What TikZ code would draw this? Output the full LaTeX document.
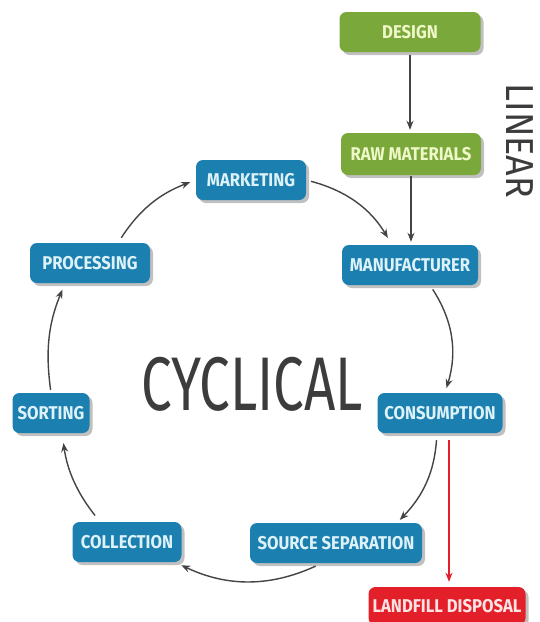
\documentclass[tikz,border=0pt]{standalone}
\usepackage{fontspec}
\usetikzlibrary{shadows,arrows.meta}
\newfontfamily\lblfont[FakeStretch=0.9]{Fira Sans}
\newfontfamily\bigfont[FakeStretch=0.72]{Fira Sans}
\newfontfamily\linfont[FakeStretch=0.92]{Fira Sans}
\definecolor{boxblue}{HTML}{1B7FB0}
\definecolor{boxgreen}{HTML}{7BA83A}
\definecolor{boxred}{HTML}{E3202A}
\definecolor{txtblue}{HTML}{DDF2F8}
\definecolor{txtgreen}{HTML}{EEF8C8}
\definecolor{txtred}{HTML}{FCE4E4}
\definecolor{arrowgray}{HTML}{444444}
\definecolor{titlegray}{HTML}{3C3C3C}
\tikzset{
  box/.style={rounded corners=7pt, minimum height=40pt, inner sep=0pt,
    font=\lblfont\bfseries\fontsize{18.5}{18.5}\selectfont,
    drop shadow={shadow xshift=3pt, shadow yshift=-3pt, opacity=0.35, fill=black!70}},
  bluebox/.style={box, fill=boxblue, text=txtblue},
  greenbox/.style={box, fill=boxgreen, text=txtgreen},
  redbox/.style={box, fill=boxred, text=txtred},
  flow/.style={draw=arrowgray, line width=1.4pt, -{Stealth[length=9pt,width=7pt]}},
  redflow/.style={draw=boxred, line width=1.4pt, -{Stealth[length=9pt,width=7pt]}}
}
\begin{document}
\begin{tikzpicture}[x=1pt,y=-1pt]
\useasboundingbox (0,0) rectangle (539,622);
\fill[white] (0,0) rectangle (539,622);
\node[greenbox, minimum width=141pt] (design) at (410,32) {DESIGN};
\node[greenbox, minimum width=140pt, minimum height=42pt] (raw) at (411,154) {RAW MATERIALS};
\node[bluebox, minimum width=110pt] (mkt) at (251,180) {MARKETING};
\node[bluebox, minimum width=136pt] (manu) at (410,265) {MANUFACTURER};
\node[bluebox, minimum width=120pt] (proc) at (90,263) {PROCESSING};
\node[bluebox, minimum width=125pt] (cons) at (440,413) {CONSUMPTION};
\node[bluebox, minimum width=77pt] (sort) at (51,413) {SORTING};
\node[bluebox, minimum width=109pt] (coll) at (127,542) {COLLECTION};
\node[bluebox, minimum width=172pt] (src) at (336,543) {SOURCE SEPARATION};
\node[redbox, minimum width=157pt, minimum height=38pt] (land) at (447,606) {LANDFILL DISPOSAL};
\node[text=titlegray, font=\bigfont\fontsize{76}{76}\selectfont] (cyc) at (252,384) {CYCLICAL};
\node[text=titlegray, rotate=-90, font=\linfont\fontsize{39}{39}\selectfont] (lin) at (520,141) {LINEAR};

\draw[flow, shorten <=3pt, shorten >=3pt] (design) -- (design |- raw.north);
\draw[flow, shorten <=1pt, shorten >=3pt] (raw) -- (raw |- manu.north);
\draw[flow, shorten <=5pt, shorten >=8pt] (mkt.east) to[bend left=22] ([xshift=-18pt]manu.north);
\draw[flow, shorten <=5pt, shorten >=5pt] ([xshift=20pt]manu.south) to[bend left=25] ([xshift=5pt]cons.north);
\draw[flow, shorten <=7pt, shorten >=4pt] ([xshift=-3pt]cons.south) to[bend left=20] ([xshift=61pt]src.north);
\draw[flow, shorten <=7pt, shorten >=7pt] ([xshift=-14pt]src.south) to[bend left=25] ([xshift=48pt]coll.south);
\draw[flow, shorten <=8pt, shorten >=10pt] ([xshift=-27pt]coll.north) to[bend left=15] ([xshift=11pt]sort.south);
\draw[flow, shorten <=3pt, shorten >=7pt] (sort.north) to[bend left=15] ([xshift=-25pt]proc.south);
\draw[flow, shorten <=6pt, shorten >=6pt] ([xshift=28pt]proc.north) to[bend left=18] (mkt.west);
\draw[redflow, shorten <=7pt, shorten >=5pt] ([xshift=9pt]cons.south) -- ([xshift=9pt]cons.south |- land.north);
\end{tikzpicture}
\end{document}
